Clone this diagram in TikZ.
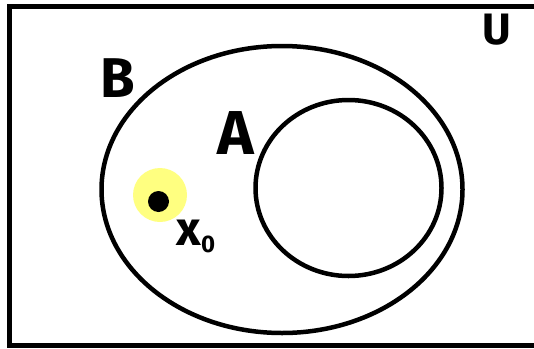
\documentclass[tikz,border=0pt]{standalone}
\usepackage{fontspec}
\setmainfont{Fira Sans}
\usepackage{xcolor}
\usepackage{tikz}
\usetikzlibrary{shapes.geometric,positioning}
\definecolor{GlowYellow}{HTML}{FFFF80}
\definecolor{InkBlack}{HTML}{000000}

\begin{document}
\begin{tikzpicture}[x=1pt,y=-1pt]
    \useasboundingbox (0,0) rectangle (534,348);
    \clip (0,0) rectangle (534,348);
    \node[draw=InkBlack,line width=5pt,inner sep=0pt,minimum width=535pt,
      minimum height=339pt] (universe) at (276.5,175.5) {};
    \node[draw=InkBlack,line width=4.5pt,ellipse,inner sep=0pt,minimum width=361pt,
      minimum height=287pt] (setB) at (282,189.5) {};
    \node[draw=InkBlack,line width=4.5pt,ellipse,inner sep=0pt,minimum width=186pt,
      minimum height=176pt] (setA) at (348.5,188) {};
    \node[fill=GlowYellow,circle,inner sep=0pt,minimum size=54pt] (glow) at (160,195) {};
    \node[fill=InkBlack,circle,inner sep=0pt,minimum size=21pt] (point) at (158.5,201.5) {};
    % labels
    \node[font=\fontsize{44}{44}\selectfont\bfseries] (labU) at (497,30) {U};
    \node[font=\fontsize{56}{56}\selectfont\bfseries] (labB) at (118,78) {B};
    \node[font=\fontsize{62}{62}\selectfont\bfseries] (labA) at (236,133) {A};
    \node[font=\fontsize{48}{48}\selectfont\bfseries,anchor=base west] (labx) at (173,245)
      {x\raisebox{-0.3ex}{\fontsize{24}{24}\selectfont 0}};
  \end{tikzpicture}
\end{document}
